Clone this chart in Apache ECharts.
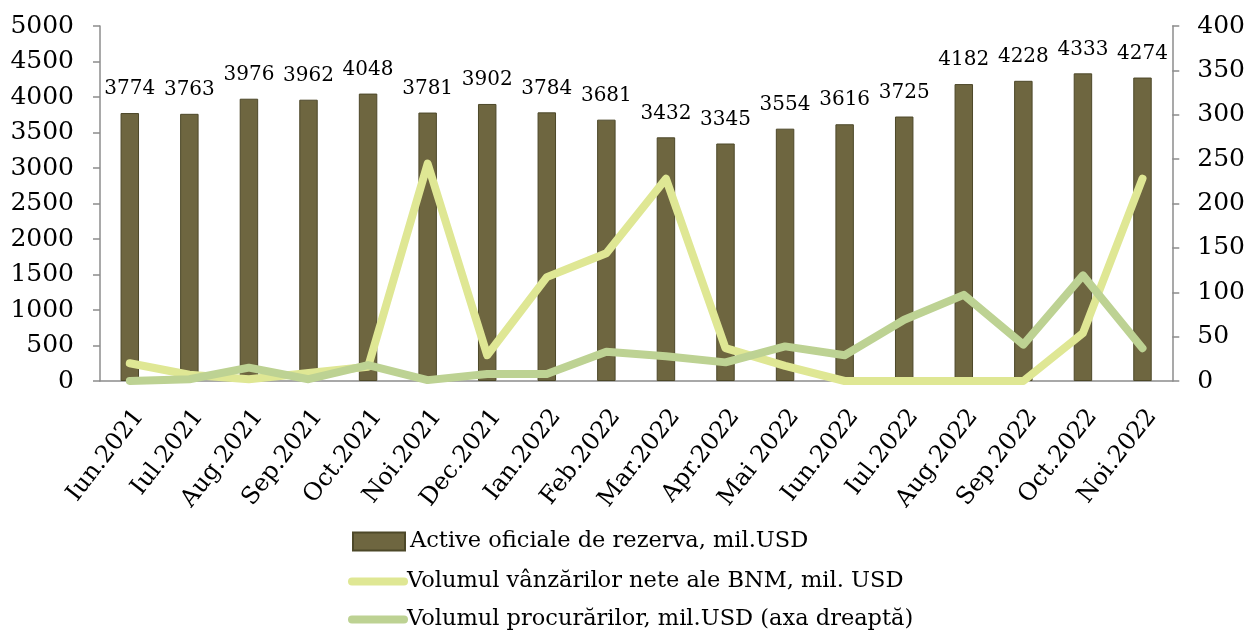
<!DOCTYPE html>
<html>
<head>
<meta charset="utf-8">
<script src="https://cdn.jsdelivr.net/npm/echarts@6/dist/echarts.min.js"></script>
<style>
    html, body { margin: 0; padding: 0; background: #fff; }
    #chart { width: 1248px; height: 631px; }
</style>
</head>
<body>
<div id="chart"></div>
<script>
// date
var months = ['Iun.2021', 'Iul.2021', 'Aug.2021', 'Sep.2021', 'Oct.2021', 'Noi.2021', 'Dec.2021',
    'Ian.2022', 'Feb.2022', 'Mar.2022', 'Apr.2022', 'Mai 2022', 'Iun.2022', 'Iul.2022',
    'Aug.2022', 'Sep.2022', 'Oct.2022', 'Noi.2022'];
var active = [3774, 3763, 3976, 3962, 4048, 3781, 3902, 3784, 3681, 3432, 3345, 3554, 3616, 3725, 4182, 4228, 4333, 4274];
var vanzari = [20, 7, 2, 9, 16, 245, 29, 117, 144, 228, 37, 17, 0, 0, 0, 0, 54, 228];
var procurari = [0, 2, 15, 2, 18, 1, 8, 8, 33, 28, 21, 39, 29, 69, 97, 41, 119, 37];
var leftTicks = [0, 5000, 500];
var rightTicks = [0, 400, 50];

var numeSerii = ['Active oficiale de rezerva, mil.USD',
    'Volumul vânzărilor nete ale BNM, mil. USD',
    'Volumul procurărilor, mil.USD (axa dreaptă)'];

var font = 'DejaVu Serif';
var lineIcon = 'path://M4,0 L56,0 A4,4 0 0 1 56,8 L4,8 A4,4 0 0 1 4,0 Z';
var axisGray = '#8c8c8c';

// legenda: cate un rand pentru fiecare serie
function rand(name, top, icon, w, h, pad) {
    return {
        orient: 'vertical',
        left: 352 - (w - 52) / 2,
        top: top,
        padding: 0,
        itemWidth: w,
        itemHeight: h,
        icon: icon,
        textStyle: { fontFamily: font, fontSize: 22.5, color: '#000', padding: [0, 0, 0, pad] },
        data: [name]
    };
}

var myChart = echarts.init(document.getElementById('chart'));
var option = {
    animation: false,
    textStyle: { fontFamily: font },
    grid: { left: 100, right: 73, top: 26, bottom: 250 },
    legend: [
        rand(numeSerii[0], 530, 'rect', 52, 18, 0),
        rand(numeSerii[1], 570, lineIcon, 60, 9, -6),
        rand(numeSerii[2], 608, lineIcon, 60, 9, -6)
    ],
    xAxis: {
        type: 'category',
        data: months,
        axisLine: { lineStyle: { color: axisGray, width: 1.5 } },
        axisTick: { length: 7, lineStyle: { color: axisGray, width: 1.5 } },
        axisLabel: {
            rotate: 52, fontSize: 24, color: '#000', interval: 0, margin: 24,
            verticalAlign: 'top'
        }
    },
    yAxis: [
        {
            type: 'value',
            min: leftTicks[0], max: leftTicks[1], interval: leftTicks[2],
            splitLine: { show: false },
            axisLine: { show: true, lineStyle: { color: axisGray, width: 1.5 } },
            axisTick: { show: true, length: 7, lineStyle: { color: axisGray, width: 1.5 } },
            axisLabel: { fontSize: 25, color: '#000', margin: 26, formatter: function (v) { return String(v); } }
        },
        {
            type: 'value',
            min: rightTicks[0], max: rightTicks[1], interval: rightTicks[2],
            splitLine: { show: false },
            axisLine: { show: true, lineStyle: { color: axisGray, width: 1.5 } },
            axisTick: { show: true, length: 7, lineStyle: { color: axisGray, width: 1.5 } },
            axisLabel: { fontSize: 25, color: '#000', margin: 25, formatter: function (v) { return String(v); } }
        }
    ],
    series: [
        {
            name: numeSerii[0],
            type: 'bar',
            barWidth: '31%',
            data: active,
            itemStyle: { color: '#6e6640', borderColor: '#4d4829', borderWidth: 1 },
            label: { show: true, position: 'top', distance: 14, fontSize: 20, color: '#000', fontFamily: font }
        },
        {
            name: numeSerii[1],
            type: 'line',
            yAxisIndex: 1,
            data: vanzari,
            showSymbol: false,
            symbol: 'none',
            lineStyle: { color: '#dfe794', width: 8, cap: 'round', join: 'round' },
            itemStyle: { color: '#dfe794' }
        },
        {
            name: numeSerii[2],
            type: 'line',
            yAxisIndex: 1,
            data: procurari,
            showSymbol: false,
            symbol: 'none',
            lineStyle: { color: '#bdd293', width: 8, cap: 'round', join: 'round' },
            itemStyle: { color: '#bdd293' }
        }
    ]
};
myChart.setOption(option);
window.addEventListener('resize', function () {
    myChart.resize();
});
</script>
</body>
</html>
